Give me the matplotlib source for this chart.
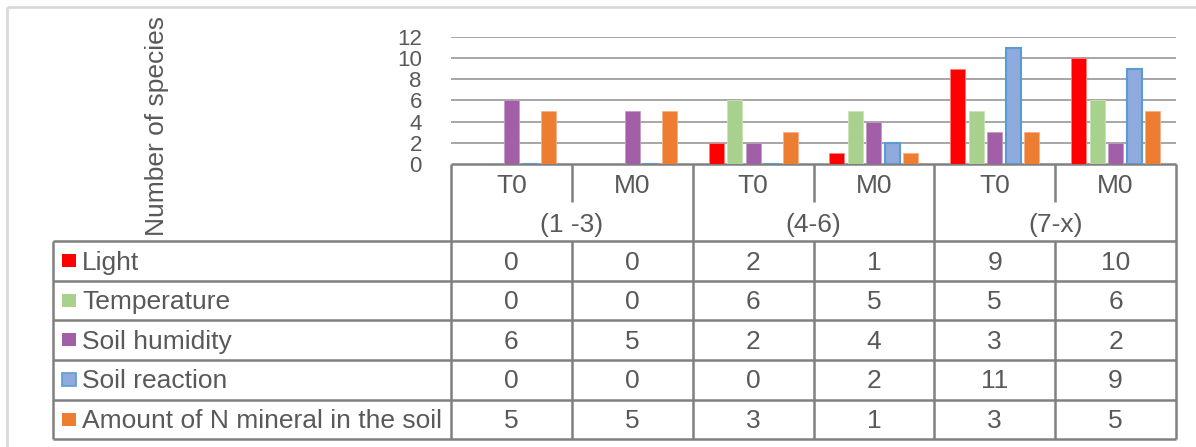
import matplotlib
matplotlib.use("Agg")
import matplotlib.pyplot as plt
from matplotlib.transforms import blended_transform_factory
from matplotlib.patches import Rectangle

plt.rcParams['font.family'] = ['Liberation Sans', 'DejaVu Sans']

# ---- data ----
groups = ["(1 -3)", "(4-6)", "(7-x)"]
subcats = ["T0", "M0", "T0", "M0", "T0", "M0"]
series = ["Light", "Temperature", "Soil humidity", "Soil reaction",
          "Amount of N mineral in the soil"]
light = [0, 0, 2, 1, 9, 10]
temperature = [0, 0, 6, 5, 5, 6]
soil_humidity = [6, 5, 2, 4, 3, 2]
soil_reaction = [0, 0, 0, 2, 11, 9]
n_mineral = [5, 5, 3, 1, 3, 5]
yticks = [0, 2, 4, 6, 8, 10, 12]
ylabel = "Number of species"

values = [light, temperature, soil_humidity, soil_reaction, n_mineral]
fills = ["#FF0000", "#A9D18E", "#A05FA6", "#8FAADC", "#ED7D31"]
edges = ["#FF8080", "#C9E3B6", "#C39CC6", "#5B9BD5", "#F5B08A"]
edge_w = [0.6, 0.6, 0.6, 1.5, 0.6]

W, H = 1196, 447
TXT = "#595959"
LINE = "#808080"
FS = 19
FS_TICK = 16
CAP = 0.716 * FS * 100 / 72  # cap height in px

fig = plt.figure(figsize=(W / 100, H / 100), dpi=100)

# overlay axes in pixel coordinates
ov = fig.add_axes([0, 0, 1, 1])
ov.set_xlim(0, W)
ov.set_ylim(H, 0)
ov.axis("off")

# plot area
x0, x1 = 451, 1176
y_top, y_zero = 37, 164
ax = fig.add_axes([x0 / W, (H - y_zero) / H, (x1 - x0) / W, (y_zero - y_top) / H])
ax.set_xlim(-0.5, len(subcats) - 0.5)
ax.set_ylim(0, 12)
ax.patch.set_alpha(0)
for s in ax.spines.values():
    s.set_visible(False)
ax.set_xticks([])
ax.set_yticks(yticks)
ax.tick_params(axis="y", length=0, pad=21, labelsize=FS_TICK, labelcolor=TXT)
for t in yticks[1:]:
    ax.axhline(t, color="#A6A6A6", lw=1.4, zorder=0)

step = 0.153
bw = 0.124
xs = list(range(len(subcats)))
for k, (vals, fc, ec, lw) in enumerate(zip(values, fills, edges, edge_w)):
    off = (k - 2) * step
    ax.bar([x + off for x in xs], vals, width=bw, color=fc, edgecolor=ec,
           linewidth=lw, zorder=3)

fig.text(157 / W, 1 - 126 / H, ylabel, rotation=90, ha="center", va="center",
         fontsize=FS, color=TXT)

# blended transform: x in category data coords, y in pixels
bt = blended_transform_factory(ax.transData, ov.transData)

# table geometry (pixels)
row1_top, row1_bot, row2_bot = 164, 202, 241
row_edges = [241, 280.5, 320, 359.5, 399.5, 439]
tbl_left = 53
lw_t = 1.8

def hline(y, xa, xb):
    ov.plot([xa, xb], [y, y], color=LINE, lw=lw_t, solid_capstyle="butt", zorder=5)

def vline_cat(xc, ya, yb):
    ov.plot([xc, xc], [ya, yb], color=LINE, lw=lw_t, transform=bt,
            solid_capstyle="butt", zorder=5)

# header
hline(row1_top, x0, x1)
for i in range(len(subcats) + 1):
    xc = i - 0.5
    if i % 2 == 0:
        vline_cat(xc, row1_top, row_edges[-1])
    else:
        vline_cat(xc, row1_top, row1_bot)
for i, lab in enumerate(subcats):
    ov.text(i, 193, lab, transform=bt, ha="center",
            va="baseline", fontsize=FS, color=TXT)
for g, lab in enumerate(groups):
    ov.text(2 * g + 0.5, 232, lab, transform=bt,
            ha="center", va="baseline", fontsize=FS, color=TXT)

# table body
for y in row_edges:
    hline(y, tbl_left, x1)
ov.plot([tbl_left, tbl_left], [row_edges[0], row_edges[-1]], color=LINE,
        lw=lw_t, solid_capstyle="butt", zorder=5)
for i in range(len(subcats) + 1):
    if i % 2 == 1:
        vline_cat(i - 0.5, row_edges[0], row_edges[-1])

for r, (name, vals) in enumerate(zip(series, values)):
    yc = (row_edges[r] + row_edges[r + 1]) / 2
    base = yc + CAP / 2 - 0.5
    ov.add_patch(Rectangle((62, yc - 6.5), 14, 13, facecolor=fills[r],
                           edgecolor=edges[r] if r == 3 else fills[r],
                           lw=1.2 if r == 3 else 0, zorder=6))
    ov.text(82, base, name, ha="left", va="baseline", fontsize=FS, color=TXT)
    for i, v in enumerate(vals):
        ov.text(i, base, str(v), transform=bt, ha="center", va="baseline",
                fontsize=FS, color=TXT)

# outer chart border (top and left visible)
ov.plot([7, 7], [7, H], color="#D9D9D9", lw=2, solid_capstyle="butt")
ov.plot([7, W], [7, 7], color="#D9D9D9", lw=2, solid_capstyle="butt")

fig.savefig("out.png", dpi=100)
